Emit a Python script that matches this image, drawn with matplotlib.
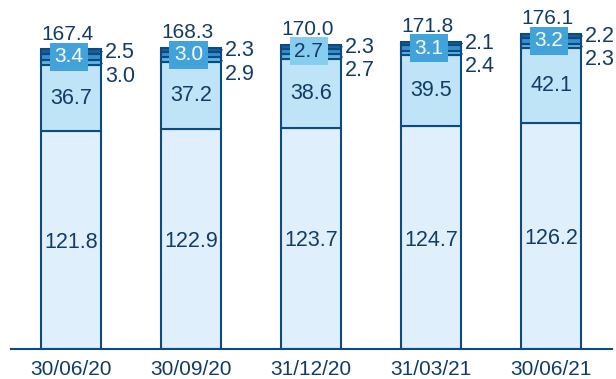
import numpy as np
import matplotlib
matplotlib.use("Agg")
import matplotlib.pyplot as plt

plt.rcParams["font.family"] = ["Liberation Sans", "DejaVu Sans"]

dates = ["30/06/20", "30/09/20", "31/12/20", "31/03/21", "30/06/21"]
seg_base = [121.8, 122.9, 123.7, 124.7, 126.2]
seg_second = [36.7, 37.2, 38.6, 39.5, 42.1]
seg_third = [3.0, 2.9, 2.7, 2.4, 2.3]
seg_fourth = [3.4, 3.0, 2.7, 3.1, 3.2]
seg_top = [2.5, 2.3, 2.3, 2.1, 2.2]
totals = [167.4, 168.3, 170.0, 171.8, 176.1]

txt = "#123c66"
edge = "#0d4a7e"
colors = ["#dff0fc", "#bfe4f8", "#5cb4e4", "#3590cf", "#1a5f9c"]

fig = plt.figure(figsize=(6.16, 3.79), dpi=100)
ax = fig.add_axes([11 / 616, 30 / 379, 601 / 616, 349 / 379])

x = np.arange(len(dates))
w = 0.5
fs = 15.5
bottom = np.zeros(len(dates))
for vals, c in zip([seg_base, seg_second, seg_third, seg_fourth, seg_top], colors):
    ax.bar(x, vals, w, bottom=bottom, color=c, edgecolor=edge, linewidth=1.5)
    bottom += np.array(vals)

for i in range(len(dates)):
    b0 = seg_base[i]
    b1 = b0 + seg_second[i]
    b2 = b1 + seg_third[i]
    b3 = b2 + seg_fourth[i]
    ax.text(x[i], b0 / 2 - 1.5, f"{seg_base[i]:.1f}", ha="center", va="center",
            fontsize=fs, color=txt)
    ax.text(x[i], (b0 + b1) / 2, f"{seg_second[i]:.1f}", ha="center",
            va="center", fontsize=fs, color=txt)
    # boxed label for the middle small segment
    light = i == 2
    ax.text(x[i] - 0.02, b2 + seg_fourth[i] / 2, f"{seg_fourth[i]:.1f}",
            ha="center", va="center", fontsize=15,
            color=txt if light else "white",
            bbox=dict(boxstyle="square,pad=0.22",
                      fc="#86cdf0" if light else "#41a3d9", ec="none"))
    ax.text(x[i] - 0.03, totals[i] + 3.0, f"{totals[i]:.1f}", ha="center",
            va="bottom", fontsize=15, color=txt)
    # side labels with leader lines
    xr = x[i] + w / 2
    ax.annotate(f"{seg_top[i]:.1f}", xy=(xr, b3 + seg_top[i] / 2),
                xytext=(xr + 0.035, b3 + 1.0), ha="left", va="center",
                fontsize=fs, color=txt,
                arrowprops=dict(arrowstyle="-", color=edge, lw=0.8,
                                shrinkA=0, shrinkB=0))
    ax.annotate(f"{seg_third[i]:.1f}", xy=(xr, b1 + seg_third[i] / 2),
                xytext=(xr + 0.035, b1 - 6.5), ha="left", va="center",
                fontsize=fs, color=txt,
                arrowprops=dict(arrowstyle="-", color=edge, lw=0.8,
                                shrinkA=0, shrinkB=0))

ax.set_xlim(-0.5, 4.508)
ax.set_ylim(0, 195)
ax.set_xticks(x)
ax.set_xticklabels(dates, fontsize=15, color=txt)
ax.tick_params(axis="x", length=0, pad=8)
ax.set_yticks([])
for s in ["top", "left", "right"]:
    ax.spines[s].set_visible(False)
ax.spines["bottom"].set_color(edge)
ax.spines["bottom"].set_linewidth(1.5)

plt.savefig("out.png", dpi=100)
plt.close(fig)
